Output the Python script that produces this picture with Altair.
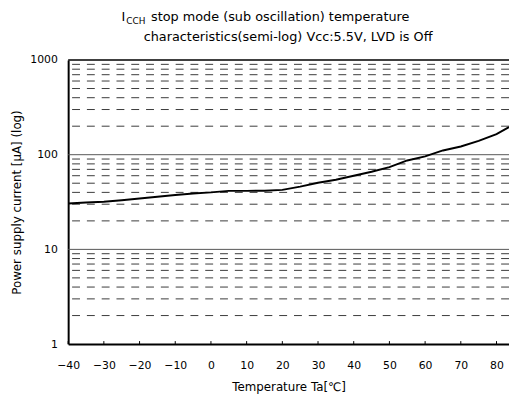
import altair as alt
import pandas as pd

temps = [-40, -35, -30, -25, -20, -15, -10, -5, 0, 5, 10, 15, 20, 25, 30, 35, 40, 45, 50, 55, 60, 65, 70, 75, 80, 83.5]
current = [30.6, 31.2, 31.8, 33.0, 34.4, 36.0, 37.6, 39.0, 40.0, 41.5, 41.5, 41.6, 42.5, 46.0, 50.5, 54.5, 60.0, 66.0, 74.0, 87.0, 96.0, 111.0, 122.0, 140.0, 165.0, 196.0]

minor_grid = [2, 3, 4, 5, 6, 7, 8, 9, 20, 30, 40, 50, 60, 70, 80, 90, 200, 300, 400, 500, 600, 700, 800, 900]
major_grid = [10, 100]
top_line = [1000]
x_ticks = [-40, -30, -20, -10, 0, 10, 20, 30, 40, 50, 60, 70, 80]
y_ticks = [1, 10, 100, 1000]

title_sym = "I"
title_sub = "CCH"
title_rest = "stop mode (sub oscillation) temperature"
title_line2 = "characteristics(semi-log)  Vcc:5.5V, LVD is Off"

FONT = "DejaVu Sans"
W, H = 447, 288

xscale = alt.Scale(domain=[-40, 83.5], nice=False, zero=False)
yscale = alt.Scale(type="log", domain=[1, 1000], nice=False)

xaxis = alt.Axis(values=x_ticks, title="Temperature Ta[℃]", ticks=False,
                 labelPadding=16, titlePadding=11, grid=False, labelFlush=False,
                 labelOverlap=False)
yaxis = alt.Axis(values=y_ticks, title="Power supply current [μA] (log)",
                 ticks=False, labelPadding=11, titlePadding=6, grid=False,
                 format="d", labelFlush=False)

df = pd.DataFrame({"t": temps, "c": current})

minor = alt.Chart(pd.DataFrame({"v": minor_grid})).mark_rule(
    strokeDash=[8, 7], color="#3a3a3a", strokeWidth=1
).encode(y=alt.Y("v:Q", scale=yscale, axis=yaxis))

major = alt.Chart(pd.DataFrame({"v": major_grid})).mark_rule(
    color="#555555", strokeWidth=1
).encode(y=alt.Y("v:Q", scale=yscale, axis=yaxis))

top = alt.Chart(pd.DataFrame({"v": top_line})).mark_rule(
    color="black", strokeWidth=1.5
).encode(y=alt.Y("v:Q", scale=yscale, axis=yaxis))

line = alt.Chart(df).mark_line(color="black", strokeWidth=2, clip=True).encode(
    x=alt.X("t:Q", scale=xscale, axis=xaxis),
    y=alt.Y("c:Q", scale=yscale, axis=yaxis),
)

ticks = alt.Chart(pd.DataFrame({"t": x_ticks})).mark_rule(
    color="black", strokeWidth=1
).encode(x=alt.X("t:Q", scale=xscale, axis=xaxis), y=alt.value(H), y2=alt.value(H - 3))

def txt(s, x, y, size, align="left"):
    return alt.Chart(pd.DataFrame({"s": [s]})).mark_text(
        font=FONT, fontSize=size, align=align, baseline="middle", color="black"
    ).encode(text="s:N", x=alt.value(x), y=alt.value(y))

t1 = txt(title_sym, 54, -44, 13)
t2 = txt(title_sub, 59, -40, 9)
t3 = txt(title_rest, 84, -44, 13)
t4 = txt(title_line2, 223, -23, 13, align="center")

chart = alt.layer(minor, major, top, line, ticks, t1, t2, t3, t4).resolve_scale(
    x="shared", y="shared"
).properties(
    width=W, height=H,
    autosize=alt.AutoSizeParams(type="none"),
    padding={"left": 61, "top": 50, "right": 0, "bottom": 56},
).configure_view(stroke=None).configure_axis(
    domainColor="black", domainWidth=2, labelFont=FONT, titleFont=FONT,
    labelFontSize=11, titleFontSize=12, labelColor="black", titleColor="black",
    titleFontWeight="normal",
)

chart.save("out.html", embed_options={"renderer": "svg", "actions": False})
